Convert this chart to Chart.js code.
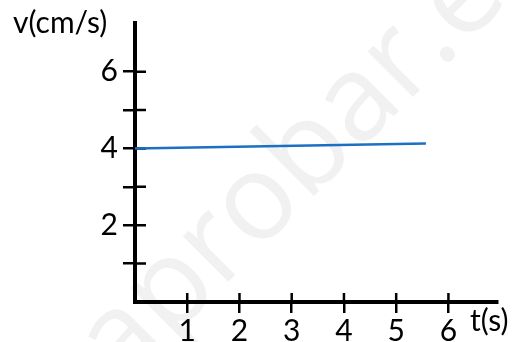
<!DOCTYPE html>
<html>
<head>
<meta charset="utf-8">
<script src="https://cdn.jsdelivr.net/npm/chart.js@4/dist/chart.umd.min.js"></script>
<style>
  html, body { margin: 0; padding: 0; background: #fff; }
  #wrap { width: 516px; height: 342px; position: relative; }
</style>
</head>
<body>
<div id="wrap"><canvas id="c" width="516" height="342"></canvas></div>
<script>
// ---- data ----
const timeValues = [0, 5.57];          // t (s)
const speedValues = [4.0, 4.13];       // v (cm/s)
const xTickValues = [1, 2, 3, 4, 5, 6];
const xTickLabels = ['1', '2', '3', '4', '5', '6'];
const yTickValues = [1, 2, 3, 4, 5, 6];
const yTickLabels = ['', '2', '', '4', '', '6'];
const xAxisTitle = 't(s)';
const yAxisTitle = 'v(cm/s)';
const watermarkText = 'aprobar.es';

const FONT = 'Lato, "Open Sans", sans-serif';

const extrasPlugin = {
  id: 'extras',
  beforeDraw(chart) {
    const ctx = chart.ctx;
    ctx.save();
    ctx.fillStyle = '#fff';
    ctx.fillRect(0, 0, chart.width, chart.height);
    // faint watermark
    ctx.translate(122, 388);
    ctx.rotate(-Math.PI / 4);
    ctx.font = '120px "Open Sans", sans-serif';
    ctx.fillStyle = '#f1f1f1';
    ctx.textAlign = 'left';
    ctx.textBaseline = 'alphabetic';
    ctx.fillText(watermarkText, 0, 0);
    ctx.restore();
  },
  beforeDatasetsDraw(chart) {
    // inward halves of the tick marks (ticks cross the axes)
    const ctx = chart.ctx;
    const xs = chart.scales.x, ys = chart.scales.y;
    const ca = chart.chartArea;
    ctx.save();
    ctx.strokeStyle = '#000';
    ctx.lineWidth = 2.5;
    ctx.beginPath();
    xs.ticks.forEach(t => {
      const px = xs.getPixelForValue(t.value);
      ctx.moveTo(px, ca.bottom);
      ctx.lineTo(px, ca.bottom - 9);
    });
    ys.ticks.forEach(t => {
      const py = ys.getPixelForValue(t.value);
      ctx.moveTo(ca.left, py);
      ctx.lineTo(ca.left + 11, py);
    });
    ctx.stroke();
    ctx.restore();
  },
  afterDraw(chart) {
    const ctx = chart.ctx;
    ctx.save();
    ctx.font = '30px ' + FONT;
    ctx.fillStyle = '#000';
    ctx.textAlign = 'left';
    ctx.textBaseline = 'alphabetic';
    ctx.fillText(yAxisTitle, 13, 33);
    ctx.fillText(xAxisTitle, 470, 331);
    ctx.restore();
  }
};

new Chart(document.getElementById('c'), {
  type: 'line',
  data: {
    datasets: [{
      data: timeValues.map((t, i) => ({ x: t, y: speedValues[i] })),
      borderColor: '#1d6fc2',
      borderWidth: 2.5,
      pointRadius: 0,
      tension: 0,
      fill: false
    }]
  },
  options: {
    responsive: false,
    animation: false,
    devicePixelRatio: 1,
    layout: { padding: { left: 0, top: 23, right: 19, bottom: 0 } },
    plugins: { legend: { display: false }, tooltip: { enabled: false }, title: { display: false } },
    scales: {
      x: {
        type: 'linear',
        min: 0,
        max: 6.93,
        afterBuildTicks: s => { s.ticks = xTickValues.map(v => ({ value: v })); },
        afterFit: s => { s.height = 40; },
        border: { display: true, width: 4, color: '#000' },
        grid: { drawOnChartArea: false, drawTicks: true, tickLength: 11, tickWidth: 2.5, lineWidth: 2.5, color: '#000' },
        ticks: {
          autoSkip: false,
          maxRotation: 0,
          padding: 0,
          color: '#000',
          font: { family: FONT, size: 30 },
          callback: (v) => { const i = xTickValues.indexOf(v); return i >= 0 ? xTickLabels[i] : ''; }
        }
      },
      y: {
        type: 'linear',
        min: 0,
        max: 7.27,
        afterBuildTicks: s => { s.ticks = yTickValues.map(v => ({ value: v })); },
        afterFit: s => { s.width = 135; },
        border: { display: true, width: 4, color: '#000' },
        grid: { drawOnChartArea: false, drawTicks: true, tickLength: 12, tickWidth: 2.5, lineWidth: 2.5, color: '#000' },
        ticks: {
          autoSkip: false,
          padding: 5,
          color: '#000',
          font: { family: FONT, size: 30 },
          callback: (v) => { const i = yTickValues.indexOf(v); return i >= 0 ? yTickLabels[i] : ''; }
        }
      }
    }
  },
  plugins: [extrasPlugin]
});
</script>
</body>
</html>
